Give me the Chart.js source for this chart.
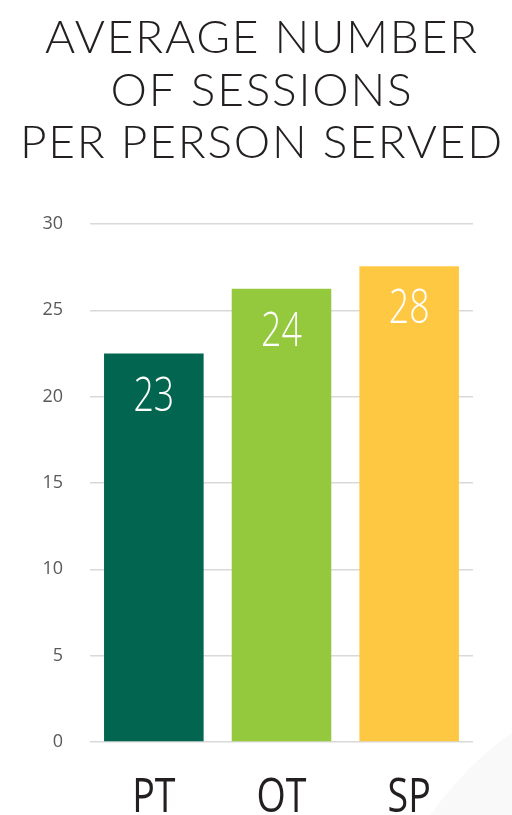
<!DOCTYPE html>
<html>
<head>
<meta charset="utf-8">
<script src="https://cdn.jsdelivr.net/npm/chart.js@4/dist/chart.umd.min.js"></script>
<style>
  html, body { margin: 0; padding: 0; background: #fff; overflow: hidden; }
  #wrap { position: relative; width: 512px; height: 815px; overflow: hidden; }
  /* faint decorative circle in the bottom right corner */
  #deco { position: absolute; left: 372px; top: 672px; width: 662px; height: 662px;
          border-radius: 50%; background: #f8f9f8; }
  #chart { position: absolute; left: 0; top: 0; }
</style>
</head>
<body>
<div id="wrap"><div id="deco"></div><canvas id="chart" width="512" height="815"></canvas></div>
<script>
// chart data
const categories = ['PT', 'OT', 'SP'];
const sessions = [22.5, 26.25, 27.55];
const valueLabels = ['23', '24', '28'];
const barColors = ['#02654F', '#95C93D', '#FFC843'];
const yTicks = [0, 5, 10, 15, 20, 25, 30];
const titleLines = ['AVERAGE NUMBER', 'OF SESSIONS', 'PER PERSON SERVED'];

// narrow text: no condensed font installed, so squeeze a normal one
function drawNarrow(ctx, text, x, y, scaleX) {
    ctx.save();
    ctx.translate(x, y);
    ctx.scale(scaleX, 1);
    ctx.fillText(text, 0, 0);
    ctx.restore();
}

const titleAndLabels = {
    id: 'titleAndLabels',
    afterDraw(chart) {
        const ctx = chart.ctx;
        const meta = chart.getDatasetMeta(0);
        const xScale = chart.scales.x;

        ctx.save();
        // title
        ctx.fillStyle = '#231f20';
        ctx.font = '300 46px Lato';
        ctx.letterSpacing = '1.8px';
        ctx.textAlign = 'center';
        ctx.textBaseline = 'alphabetic';
        titleLines.forEach((line, i) => {
            ctx.fillText(line, 262, 53 + i * 52.5);
        });
        ctx.letterSpacing = '0px';

        // values inside the bars
        ctx.fillStyle = '#ffffff';
        ctx.font = '300 47px "Open Sans"';
        meta.data.forEach((bar, i) => {
            drawNarrow(ctx, valueLabels[i], bar.x, bar.y + 57, 0.76);
        });

        // category labels
        ctx.fillStyle = '#231f20';
        ctx.font = '400 47px "Open Sans"';
        categories.forEach((c, i) => {
            drawNarrow(ctx, c, xScale.getPixelForTick(i), chart.chartArea.bottom + 70, 0.8);
        });
        ctx.restore();
    }
};

new Chart(document.getElementById('chart'), {
    type: 'bar',
    data: {
        labels: categories,
        datasets: [{
            data: sessions,
            backgroundColor: barColors,
            borderWidth: 0,
            categoryPercentage: 1,
            barPercentage: 0.78
        }]
    },
    options: {
        responsive: false,
        animation: false,
        layout: { padding: { left: 0, right: 39, top: 224, bottom: 0 } },
        plugins: {
            legend: { display: false },
            tooltip: { enabled: false },
            title: { display: false }
        },
        scales: {
            y: {
                min: 0,
                max: 30,
                afterBuildTicks(scale) {
                    scale.ticks = yTicks.map(v => ({ value: v }));
                },
                afterFit(scale) { scale.width = 90; },
                border: { display: false },
                grid: { color: '#d9d9d9', lineWidth: 1.5, drawTicks: false },
                ticks: {
                    padding: 27,
                    color: '#595959',
                    font: { family: '"Open Sans"', size: 18 }
                }
            },
            x: {
                afterFit(scale) { scale.height = 73; },
                border: { display: false },
                grid: { display: false },
                ticks: { display: false }
            }
        }
    },
    plugins: [titleAndLabels]
});
</script>
</body>
</html>
